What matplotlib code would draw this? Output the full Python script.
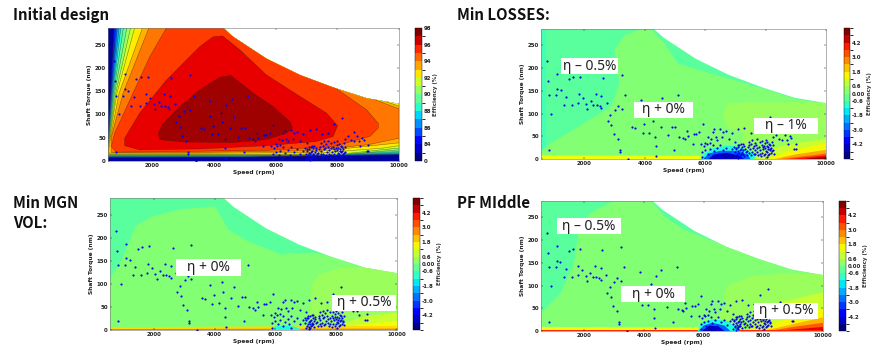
import matplotlib
matplotlib.use("Agg")
import matplotlib.pyplot as plt
from matplotlib.patches import Polygon, Rectangle
from matplotlib.colors import BoundaryNorm, Normalize
from matplotlib.cm import ScalarMappable

W, H = 880, 363
XMIN, XMAX, YMIN, YMAX = 560, 10000, 0, 286
XTICKS = [2000, 4000, 6000, 8000, 10000]
YTICKS = [0, 50, 100, 150, 200, 250]

ENVELOPE = [(540, 0), (540, 300), (4200, 300), (4300, 286), (4620, 267), (5700, 220), (6780, 185),
            (7870, 158), (8950, 135), (10000, 123), (10000, 0)]

# efficiency bands for the initial design: (band index, outline)
BANDS_INIT = [
    (1, [(540, 7), (560, 50), (640, 146), (770, 300), (10000, 300), (10000, 13), (5000, 8.5)]),
    (2, [(540, 8), (570, 50), (660, 146), (830, 300), (10000, 300), (10000, 14), (5000, 9)]),
    (3, [(540, 9), (580, 50), (680, 146), (880, 300), (10000, 300), (10000, 15), (5000, 9.5)]),
    (4, [(540, 10), (585, 50), (700, 146), (940, 300), (10000, 300), (10000, 16), (5000, 10)]),
    (5, [(540, 11), (590, 50), (720, 146), (1000, 300), (10000, 300), (10000, 18), (5000, 11)]),
    (6, [(540, 12), (595, 50), (740, 146), (1090, 300), (10000, 300), (10000, 20), (5000, 12)]),
    (7, [(540, 13), (600, 50), (770, 146), (1210, 300), (10000, 300), (10000, 24), (8000, 13), (3000, 12.5)]),
    (8, [(540, 14), (610, 50), (810, 146), (1340, 300), (10000, 300), (10000, 28), (8000, 14), (3000, 13.5)]),
    (9, [(540, 15), (620, 50), (850, 146), (1480, 300), (10000, 300), (10000, 33), (9500, 28), (7000, 15), (3000, 14.5)]),
    (10, [(560, 17), (640, 50), (920, 146), (1750, 300), (5000, 300), (8200, 159), (10000, 118), (10000, 39),
          (7000, 18), (3000, 16.5)]),
    (11, [(680, 18), (660, 50), (1050, 146), (1968, 300), (5000, 300), (8200, 158), (10000, 112),
          (10000, 49), (9000, 35), (7000, 22), (3000, 18)]),
    (12, [(831, 19), (669, 31), (777, 60), (1372, 146), (1913, 224), (2455, 286), (5000, 300), (7866, 160),
          (8950, 110), (9327, 81), (9327, 71), (9056, 53), (7866, 31), (5700, 23), (2455, 20)]),
    (13, [(1589, 24), (1100, 33), (1100, 49), (1589, 103), (2455, 174), (3537, 246), (3970, 267), (4273, 269),
          (4835, 239), (5700, 185), (6783, 139), (7650, 103), (8006, 76), (7866, 53), (7325, 42), (5700, 33),
          (3537, 26)]),
    (14, [(2238, 46), (2195, 60), (2346, 81), (2887, 117), (3537, 153), (4186, 180), (4543, 184), (5268, 146),
          (5918, 117), (6459, 85), (6545, 71), (6350, 60), (5700, 46), (4620, 40), (2995, 41)]),
]
BAND_LEVELS = [0, 42, 84, 85, 86, 87, 88, 89, 90, 91, 92, 93, 94, 95, 96, 97, 98]
INIT_TICKS = [0, 84, 86, 88, 90, 92, 94, 96, 98]

# difference regions for the three optima: (delta efficiency, outline)
A, B, C, D = -0.45, 0.1, 0.38, 1.0
BOT_P2 = [
    (1.5, [(540, 0), (540, 8), (5800, 7), (6000, 0)]),
    (-1.2, [(5850, 0), (6000, 14), (6300, 25), (6800, 30), (7200, 25), (7600, 12), (7700, 0)]),
    (-3.0, [(5950, 0), (6100, 12), (6500, 18), (7000, 18), (7400, 10), (7500, 0)]),
    (-4.8, [(6100, 0), (6300, 10), (6700, 14), (7100, 8), (7300, 0)]),
    (1.0, [(7600, 0), (8000, 20), (9000, 35), (10000, 45), (10000, 0)]),
    (1.6, [(8000, 0), (8800, 18), (10000, 35), (10000, 0)]),
    (2.5, [(8300, 0), (9000, 10), (10000, 20), (10000, 0)]),
    (3.4, [(8500, 0), (9500, 8), (10000, 12), (10000, 0)]),
    (4.3, [(8800, 0), (10000, 8), (10000, 0)]),
    (5.2, [(9300, 0), (10000, 5), (10000, 0)]),
]
REG_P2 = [
    (A, [(540, 0), (540, 300), (10000, 300), (10000, 0)]),
    (-0.8, [(540, 20), (540, 300), (720, 300), (720, 20)]),
    (B, [(600, 20), (896, 35), (2000, 79), (2883, 115), (3159, 166), (2993, 239), (3325, 272), (3876, 286),
         (4200, 286), (4650, 254), (5090, 210), (5970, 192), (6970, 173), (8070, 152), (8950, 133), (10000, 122),
         (10000, 0), (540, 0), (540, 18)]),
    (C, [(6746, 122), (7500, 125), (10000, 124), (10000, 0), (7000, 0), (7300, 57), (6746, 68), (6580, 93)]),
] + BOT_P2
REG_P3 = [
    (A, [(540, 0), (540, 300), (10000, 300), (10000, 0)]),
    (B, [(540, 0), (540, 109), (960, 152), (1400, 225), (1950, 246), (2830, 261), (4010, 268), (4450, 217),
         (5110, 192), (6215, 163), (6550, 167), (7320, 167), (8430, 149), (10000, 127), (10000, 0)]),
    (C, [(7220, 101), (7440, 120), (8100, 134), (9000, 136), (10000, 127), (10000, 0), (7110, 0), (7160, 72)]),
    (D, [(8000, 0), (8000, 10), (9000, 30), (10000, 38), (10000, 0)]),
    (1.5, [(8000, 0), (9000, 14), (10000, 20), (10000, 0)]),
    (1.9, [(540, 0), (540, 6), (10000, 9), (10000, 0)]),
    (3.0, [(540, 0), (540, 2), (10000, 3), (10000, 0)]),
    (-1.2, [(5800, 0), (6000, 8), (6400, 10), (6700, 6), (6900, 0)]),
]
REG_P4 = [
    (A, [(540, 0), (540, 300), (10000, 300), (10000, 0)]),
    (B, [(540, 38), (1220, 83), (1666, 149), (1833, 223), (2223, 260), (3000, 286), (4220, 288), (4670, 253),
         (5340, 223), (6460, 194), (7570, 168), (8690, 142), (10000, 125), (10000, 0), (540, 0)]),
    (C, [(6790, 98), (7570, 120), (8690, 127), (10000, 125), (10000, 0), (6000, 0), (6790, 57), (6680, 75)]),
    (D, [(7500, 0), (7800, 45), (8500, 62), (10000, 85), (10000, 0)]),
    (1.6, [(7800, 0), (8500, 20), (10000, 50), (10000, 0)]),
    (2.4, [(8000, 0), (9000, 15), (10000, 30), (10000, 0)]),
    (3.4, [(8200, 0), (9000, 9), (10000, 18), (10000, 0)]),
    (4.4, [(8400, 0), (10000, 9), (10000, 0)]),
    (1.5, [(540, 0), (540, 9), (5800, 8), (6000, 0)]),
    (4.0, [(540, 0), (540, 2), (10000, 2), (10000, 0)]),
    (-1.2, [(5800, 0), (5950, 18), (6300, 26), (6800, 22), (7100, 8), (7200, 0)]),
    (-3.0, [(5850, 0), (6000, 12), (6300, 18), (6700, 12), (6900, 0)]),
    (-4.8, [(5950, 0), (6200, 12), (6500, 10), (6700, 0)]),
]
DELTA_LEVELS = [-5.4, -4.8, -4.2, -3.6, -3.0, -2.4, -1.8, -1.2, -0.6, 0, 0.6, 1.2, 1.8, 2.4, 3.0, 3.6, 4.2, 4.8, 5.4]
DELTA_TICKS = [-4.2, -3.0, -1.8, -0.6, 0, 0.6, 1.8, 3.0, 4.2]
DELTA_LABELS = ["-4.2", "-3.0", "-1.8", "-0.6", "0.00", "0.6", "1.8", "3.0", "4.2"]

POINTS_UPPER = [
    (745, 215), (788, 171), (831, 140), (1048, 140), (907, 100), (1102, 187), (1102, 155), (1210, 151),
    (1318, 119), (1394, 137), (1481, 176), (1621, 180), (1859, 181), (1805, 143), (1935, 135), (1589, 119),
    (1784, 124), (2054, 122), (2097, 111), (2216, 127), (2292, 119), (2400, 119), (2509, 117), (2552, 112),
    (2563, 139), (2368, 144), (2617, 178), (2736, 123), (3234, 184), (3342, 140), (3114, 117), (3234, 110),
    (3017, 108), (2855, 96), (2779, 83), (2887, 74), (2974, 54), (3104, 43), (3169, 20), (3169, 16),
    (3428, 1), (3590, 70), (3688, 68), (3883, 130), (3861, 97), (3969, 76), (3926, 57), (4142, 58),
    (4240, 104), (4402, 121), (4261, 83), (4575, 134), (4532, 70), (4640, 94), (5105, 140), (4889, 71),
    (4997, 71), (4348, 48), (4781, 52), (4359, 29), (4965, 20), (4380, 6), (5138, 49), (5268, 47),
    (5322, 43), (5397, 61), (5430, 50), (5700, 56), (5625, 56), (5917, 78), (5809, 60), (5592, 33),
    (831, 19),
]
POINTS_MID = [
    (5850, 32), (5900, 15), (5950, 28), (6000, 36), (6050, 33), (6100, 48), (6150, 35), (6200, 45), (6250, 60),
    (6300, 65), (6350, 48), (6400, 42), (6500, 66), (6550, 48), (6600, 60), (6700, 62), (6800, 44), (6900, 58),
    (7000, 38), (7100, 66), (7300, 69), (7500, 58), (7700, 60), (7900, 79), (8150, 93), (8000, 42), (8250, 48),
    (8350, 53), (8550, 63), (8650, 53), (8800, 50), (8850, 46), (8700, 42), (8550, 42), (8450, 45), (9000, 34),
    (8750, 32), (8950, 22), (9000, 22), (5900, 5), (6000, 20), (6100, 12), (6150, 22), (6250, 8), (6300, 18),
    (6400, 24), (6450, 12), (6500, 4), (6600, 20), (6700, 25), (6800, 14), (6900, 22), (6500, 30), (6250, 30),
]
POINTS_DENSE = [
    (6960, 27), (7020, 21), (6985, 15), (7040, 9), (6995, 5), (7075, 31), (7030, 25), (7090, 18), (7060, 12),
    (7110, 7), (7130, 30), (7085, 26), (7140, 20), (7125, 14), (7170, 8), (7100, 3), (7190, 33), (7175, 22),
    (7215, 16), (7190, 11), (7150, 4), (7240, 32), (7225, 27), (7260, 19), (7235, 12), (7275, 6), (7295, 29),
    (7310, 23), (7345, 15), (7390, 8), (7420, 26), (7380, 18), (7465, 38), (7440, 30), (7480, 22), (7455, 14),
    (7510, 8), (7555, 42), (7530, 33), (7570, 25), (7540, 16), (7600, 11), (7640, 36), (7615, 28), (7660, 20),
    (7635, 12), (7705, 43), (7685, 31), (7730, 24), (7715, 15), (7760, 9), (7800, 38), (7780, 27), (7825, 19),
    (7805, 12), (7850, 6), (7885, 40), (7870, 30), (7905, 26), (7925, 21), (7890, 14), (7945, 8), (7975, 35),
    (7960, 29), (7995, 24), (8015, 18), (7985, 12), (8030, 5), (8050, 37), (8035, 28), (8070, 22), (8055, 15),
    (8090, 9), (8110, 33), (8095, 26), (8130, 19), (8115, 11), (8160, 30), (8145, 22), (8175, 14), (8205, 38),
    (8190, 25), (8220, 17), (8255, 30), (8240, 20), (8270, 11),
]

TITLES = ["Initial design", "Min LOSSES:", "Min MGN\nVOL:", "PF MIddle"]
SPEED_LABEL = "Speed (rpm)"
TORQUE_LABEL = "Shaft Torque (nm)"
CBAR_LABEL = "Efficiency (%)"

plt.rcParams["font.family"] = ["DejaVu Sans"]
fig = plt.figure(figsize=(W / 100, H / 100), dpi=100)


def px_axes(x0, y0, x1, y1):
    return fig.add_axes([x0 / W, 1 - y1 / H, (x1 - x0) / W, (y1 - y0) / H])


cmap = plt.get_cmap("jet")
init_norm = BoundaryNorm(BAND_LEVELS, 256)
delta_norm = Normalize(-5.4, 5.4)
delta_bnorm = BoundaryNorm(DELTA_LEVELS, 256)
TS = 3.9


def style(ax):
    ax.set_xlim(XMIN, XMAX)
    ax.set_ylim(YMIN, YMAX)
    ax.set_xticks(XTICKS)
    ax.set_yticks(YTICKS)
    ax.tick_params(direction="in", length=1.5, width=0.3, labelsize=TS, pad=1.5, top=True, right=True)
    for lab in ax.get_xticklabels() + ax.get_yticklabels():
        lab.set_fontweight("bold")
        lab.set_color("#222222")
    for s in ax.spines.values():
        s.set_linewidth(0.4)
        s.set_color("#777777")
    ax.set_xlabel(SPEED_LABEL, fontsize=TS + 0.3, fontweight="bold", labelpad=1.2, color="#222222")
    ax.set_ylabel(TORQUE_LABEL, fontsize=TS + 0.3, fontweight="bold", labelpad=1.5, color="#222222")


def cbar(cax, sm, ticks, labels):
    cb = fig.colorbar(sm, cax=cax, ticks=ticks, spacing="uniform", drawedges=False)
    cb.set_ticklabels(labels)
    cb.ax.tick_params(length=0, labelsize=TS, pad=1.2)
    for lab in cb.ax.get_yticklabels():
        lab.set_fontweight("bold")
        lab.set_color("#222222")
    cb.outline.set_linewidth(0.3)
    cb.set_label(CBAR_LABEL, fontsize=TS + 0.1, fontweight="bold", labelpad=1.5, color="#333333")


def scatter(ax, pts):
    ax.scatter([p[0] for p in pts], [p[1] for p in pts], s=2.4, c="#0000ee", linewidths=0, zorder=5)


def envelope(ax):
    env = Polygon(ENVELOPE, transform=ax.transData, facecolor="none", edgecolor="none")
    ax.add_patch(env)
    return env


ALL = POINTS_UPPER + POINTS_MID + POINTS_DENSE

# initial design
ax = px_axes(108, 28, 399, 161)
env = envelope(ax)
base = Polygon([(540, 0), (540, 300), (10000, 300), (10000, 0)], facecolor=cmap(0.03), edgecolor="none", zorder=1)
ax.add_patch(base)
base.set_clip_path(env)
for idx, poly in BANDS_INIT:
    p = Polygon(poly, facecolor=cmap((idx + 1.5) / 16), edgecolor=(0.2, 0.1, 0, 0.6), linewidth=0.35, zorder=2)
    ax.add_patch(p)
    p.set_clip_path(env)
scatter(ax, ALL)
style(ax)
cax = px_axes(415, 28, 422, 161)
sm = ScalarMappable(norm=init_norm, cmap=cmap)
cbar(cax, sm, INIT_TICKS, [str(t) for t in INIT_TICKS])

# optima
for box, cbox, regions in [
    ((541, 29, 826, 159), (844, 28, 850, 159), REG_P2),
    ((110, 198, 397, 330), (413, 198, 420, 330), REG_P3),
    ((541, 201, 823, 331), (839, 201, 846, 331), REG_P4),
]:
    ax = px_axes(*box)
    env = envelope(ax)
    for i, (v, poly) in enumerate(regions):
        p = Polygon(poly, facecolor=cmap(delta_norm(v)), edgecolor="none", zorder=1 + i * 0.01)
        ax.add_patch(p)
        p.set_clip_path(env)
    scatter(ax, ALL)
    style(ax)
    cax = px_axes(*cbox)
    cbar(cax, ScalarMappable(norm=delta_bnorm, cmap=cmap), DELTA_TICKS, DELTA_LABELS)

# titles
for (x, y), t in zip([(13, 15), (457, 15), (13, 195), (457, 203)], TITLES):
    fig.text(x / W, 1 - y / H, t, fontsize=10.8, family=["Noto Sans CJK SC"], fontweight="bold",
             va="center" if "\n" not in t else "top", ha="left", color="#111111", linespacing=1.3)

# annotation boxes
NOTES = [
    ("\u03b7 \u2013 0.5%", 561, 58, 618, 74), ("\u03b7 + 0%", 634, 102, 693, 118), ("\u03b7 \u2013 1%", 754, 118, 818, 134),
    ("\u03b7 + 0%", 176, 259, 241, 276), ("\u03b7 + 0.5%", 332, 295, 396, 311),
    ("\u03b7 \u2013 0.5%", 557, 218, 621, 234), ("\u03b7 + 0%", 621, 286, 685, 302), ("\u03b7 + 0.5%", 754, 303, 818, 319),
]
for t, x0, y0, x1, y1 in NOTES:
    fig.add_artist(Rectangle((x0 / W, 1 - y1 / H), (x1 - x0) / W, (y1 - y0) / H, transform=fig.transFigure,
                             facecolor="white", edgecolor="none", zorder=10))
    fig.text((x0 + x1) / 2 / W, 1 - (y0 + y1) / 2 / H, t, fontsize=10, family=["Noto Sans"], ha="center",
             va="center", color="#222222", zorder=11)

fig.savefig("out.png", dpi=100)
